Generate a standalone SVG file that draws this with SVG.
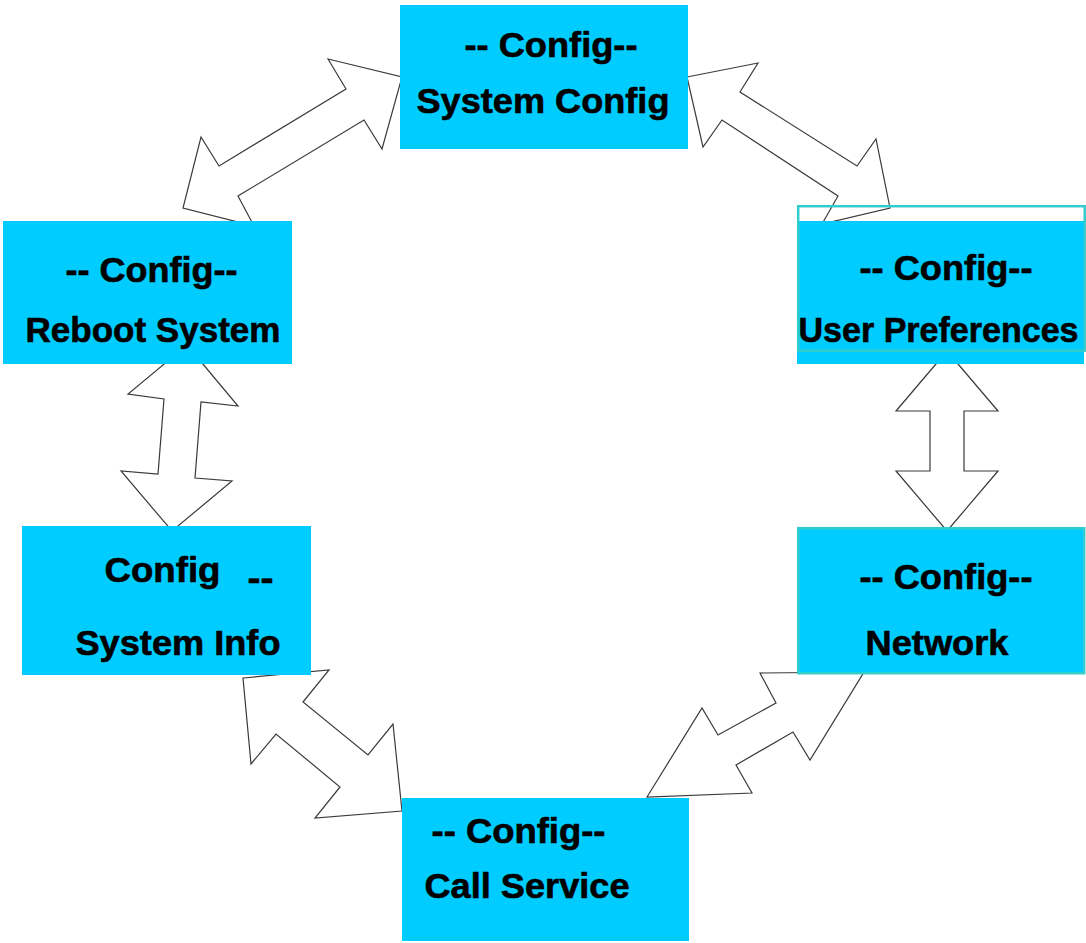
<svg xmlns="http://www.w3.org/2000/svg" width="1086" height="943" viewBox="0 0 1086 943">
<style>
.bg{fill:#ffffff}
.arrow{fill:#ffffff;stroke:#3a3a3a;stroke-width:1.2;stroke-linejoin:miter}
.box{fill:#00ccff}
.frame{fill:none;stroke:#33cccc;stroke-width:2.5}
.t{font-family:"Liberation Sans",Arial,sans-serif;font-weight:bold;font-size:35px;fill:#000000;stroke:#000000;stroke-width:0.6}
</style>
<rect class="bg" x="0" y="0" width="1086" height="943"/>
<g id="connectors">
<polygon class="arrow" points="328,59 402,77 382,149 364,120 238,196 254,226 183,208 201,137 219,166 346,89"/>
<polygon class="arrow" points="687,77 758,63 740,92 857,166 876,139 890,208 822,224 838,196 722,120 703,147"/>
<polygon class="arrow" points="187,345 238,406 201,402 195,478 232,481 172,531 121,471 158,474 164,399 128,394"/>
<polygon class="arrow" points="947,351 998,411 964,411 964,471 998,471 947,531 896,471 930,471 930,411 896,411"/>
<polygon class="arrow" points="243,678 329,670 303,702 368,755 393,724 402,811 315,818 340,787 276,734 251,764"/>
<polygon class="arrow" points="760,673 864,672 810,760 793,732 736,765 752,793 647,797 702,708 718,735 776,703"/>
</g>
<g id="node-system-config">
<rect class="box" x="400" y="5" width="288" height="144"/>
<text class="t" x="464.5" y="57" textLength="173" lengthAdjust="spacingAndGlyphs">-- Config--</text>
<text class="t" x="416.5" y="113" textLength="253" lengthAdjust="spacingAndGlyphs">System Config</text>
</g>
<g id="node-reboot-system">
<rect class="box" x="3" y="221" width="289" height="143"/>
<text class="t" x="65.5" y="282" textLength="172" lengthAdjust="spacingAndGlyphs">-- Config--</text>
<text class="t" x="25.5" y="342" textLength="255" lengthAdjust="spacingAndGlyphs">Reboot System</text>
</g>
<g id="node-user-preferences">
<rect class="box" x="797" y="221" width="287" height="143"/>
<rect class="frame" x="798.2" y="206.2" width="286.5" height="144.5"/>
<text class="t" x="859.5" y="280" textLength="173" lengthAdjust="spacingAndGlyphs">-- Config--</text>
<text class="t" x="798.5" y="342" textLength="280" lengthAdjust="spacingAndGlyphs">User Preferences</text>
</g>
<g id="node-system-info">
<rect class="box" x="22" y="526" width="289" height="149"/>
<text class="t" x="104.5" y="582" textLength="116" lengthAdjust="spacingAndGlyphs">Config</text>
<text class="t" x="247.5" y="590" textLength="26" lengthAdjust="spacingAndGlyphs">--</text>
<text class="t" x="75.5" y="655" textLength="205" lengthAdjust="spacingAndGlyphs">System Info</text>
</g>
<g id="node-network">
<rect class="box" x="797" y="527" width="288" height="147"/>
<rect class="frame" x="798.2" y="528.2" width="286" height="145"/>
<text class="t" x="859.5" y="589" textLength="173" lengthAdjust="spacingAndGlyphs">-- Config--</text>
<text class="t" x="865.5" y="655" textLength="143" lengthAdjust="spacingAndGlyphs">Network</text>
</g>
<g id="node-call-service">
<rect class="box" x="402" y="798" width="287" height="143"/>
<text class="t" x="431.5" y="843" textLength="174" lengthAdjust="spacingAndGlyphs">-- Config--</text>
<text class="t" x="424.5" y="898" textLength="205" lengthAdjust="spacingAndGlyphs">Call Service</text>
</g>
</svg>
